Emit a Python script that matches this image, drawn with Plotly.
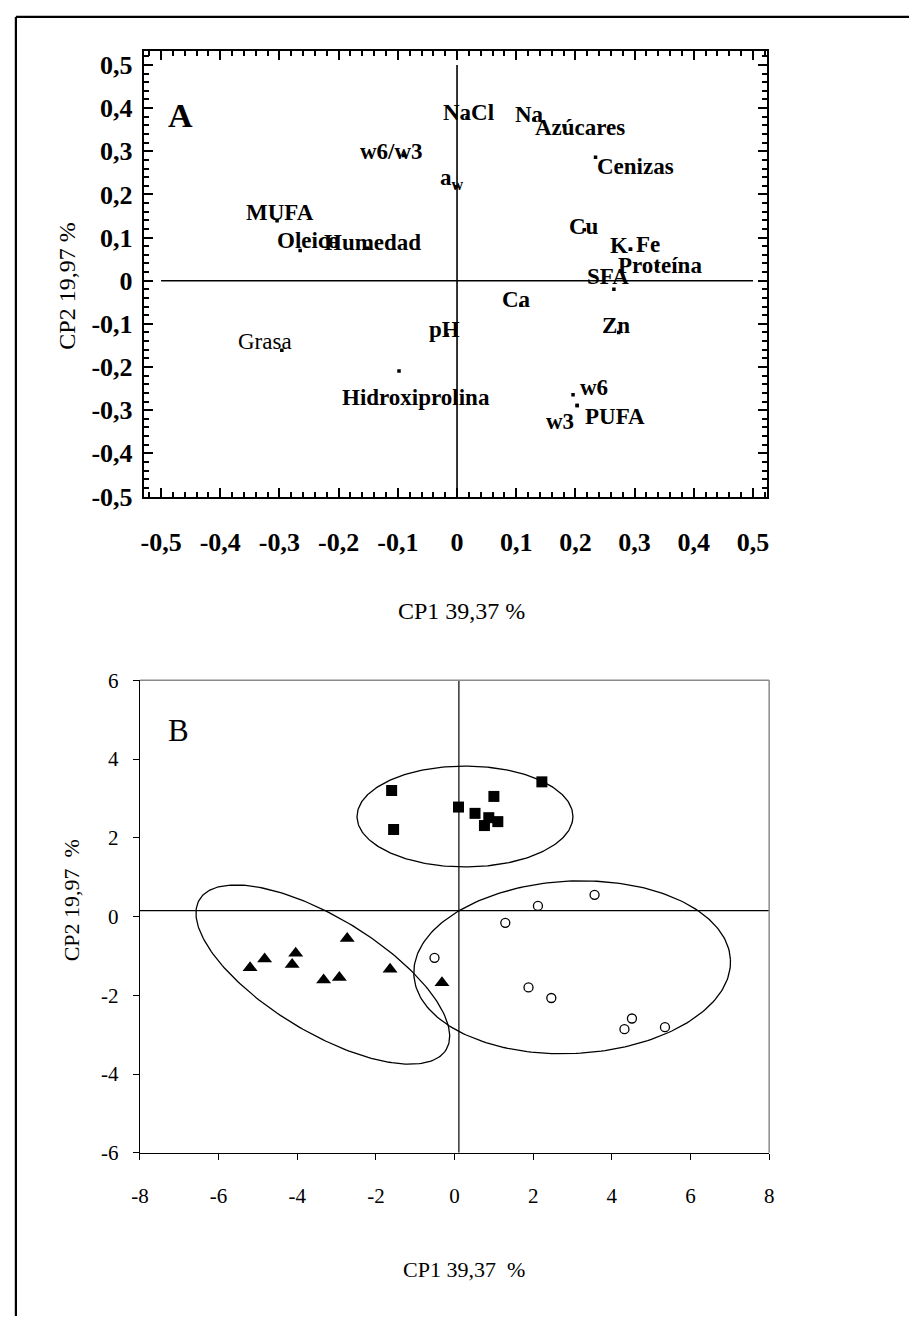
import math
import plotly.graph_objects as go

# ---------------- Panel A: loadings ----------------
var_names = ["NaCl", "Na", "Azúcares", "w6/w3", "Cenizas", "a<sub>w</sub>", "MUFA", "Oleico",
             "Humedad", "Cu", "K", "Fe", "Proteína", "SFA", "Ca", "Zn", "pH", "Grasa",
             "Hidroxiprolina", "w6", "w3", "PUFA"]
cp1_load = [0.017, 0.130, 0.181, -0.090, 0.234, -0.002, -0.304, -0.265,
            -0.151, 0.215, 0.293, 0.293, 0.338, 0.265, 0.108, 0.273, -0.017, -0.296,
            -0.098, 0.196, 0.203, 0.203]
cp2_load = [0.377, 0.373, 0.359, 0.290, 0.286, 0.218, 0.139, 0.070,
            0.075, 0.118, 0.073, 0.073, 0.036, -0.020, -0.057, -0.120, -0.125, -0.161,
            -0.209, -0.264, -0.289, -0.289]

a_ticks = [-0.5, -0.4, -0.3, -0.2, -0.1, 0, 0.1, 0.2, 0.3, 0.4, 0.5]
a_ticktext = ["-0,5", "-0,4", "-0,3", "-0,2", "-0,1", "0", "0,1", "0,2", "0,3", "0,4", "0,5"]
a_ref_h_x = [-0.5, 0.5]
a_ref_h_y = [0, 0]
a_ref_v_x = [0, 0]
a_ref_v_y = [-0.5, 0.5]

# ---------------- Panel B: scores ----------------
sq_x = [-1.60, -1.55, 0.10, 0.52, 1.00, 0.87, 0.76, 1.10, 2.22]
sq_y = [3.20, 2.21, 2.78, 2.62, 3.05, 2.51, 2.31, 2.41, 3.42]
tri_x = [-5.20, -4.83, -4.13, -4.04, -2.73, -3.33, -2.93, -1.64, -0.32]
tri_y = [-1.30, -1.08, -1.22, -0.93, -0.56, -1.61, -1.55, -1.34, -1.68]
circ_x = [1.29, 2.12, 3.56, -0.51, 1.88, 2.46, 4.51, 4.32, 5.35]
circ_y = [-0.16, 0.27, 0.55, -1.05, -1.80, -2.07, -2.59, -2.86, -2.81]

# ellipses: centre x, centre y, semi-axis a, semi-axis b, rotation (deg)
ell_cx = [0.265, -3.35, 2.99]
ell_cy = [2.54, -1.475, -1.29]
ell_a = [2.745, 3.67, 4.03]
ell_b = [1.28, 1.454, 2.19]
ell_rot = [0.0, -31.3, 2.75]

b_xticks = [-8, -6, -4, -2, 0, 2, 4, 6, 8]
b_yticks = [-6, -4, -2, 0, 2, 4, 6]
b_ref_h_x = [-8, 8]
b_ref_h_y = [0.15, 0.15]
b_ref_v_x = [0.11, 0.11]
b_ref_v_y = [-6, 6]

# ---------------- styling ----------------
W, H = 914, 1330
FONT = "Liberation Serif"

label_style = {
    # name: (xshift px, yshift px (up), bold)
    "NaCl": (1, 6, True), "Na": (-4, 5, True), "Azúcares": (16, -2, True),
    "w6/w3": (-12, 4, True), "Cenizas": (40, -9, True), "a<sub>w</sub>": (-4, 8, True),
    "MUFA": (3, 8, True), "Oleico": (8, 10, True), "Humedad": (5, 6, True),
    "Cu": (0, 3, True), "K": (-11, 4, True), "Fe": (18, 5, True),
    "Proteína": (3, 0, True), "SFA": (-6, 13, True), "Ca": (-4, 6, True),
    "Zn": (-3, 7, True), "pH": (-2, 5, True), "Grasa": (-17, 9, False),
    "Hidroxiprolina": (17, -27, True), "w6": (21, 7, True), "w3": (-17, -16, True),
    "PUFA": (38, -11, True),
}


def px_x(p):
    return p / W


def px_y(p):
    return 1 - p / H


fig = go.Figure()

# Panel A reference lines
fig.add_trace(go.Scatter(x=a_ref_h_x, y=a_ref_h_y, mode="lines", line=dict(color="black", width=1.6),
                         xaxis="x", yaxis="y", hoverinfo="skip", showlegend=False))
fig.add_trace(go.Scatter(x=a_ref_v_x, y=a_ref_v_y, mode="lines", line=dict(color="black", width=1.6),
                         xaxis="x", yaxis="y", hoverinfo="skip", showlegend=False))
# Panel A points
fig.add_trace(go.Scatter(x=cp1_load, y=cp2_load, mode="markers",
                         marker=dict(symbol="square", size=3.5, color="black", line=dict(width=0)),
                         xaxis="x", yaxis="y", hoverinfo="skip", showlegend=False))

annotations = []
for name, xv, yv in zip(var_names, cp1_load, cp2_load):
    dx, dy, bold = label_style[name]
    annotations.append(dict(x=xv, y=yv, xref="x", yref="y", text=name, showarrow=False,
                            xshift=dx, yshift=dy, xanchor="center", yanchor="middle",
                            font=dict(family=FONT, size=23, color="black",
                                      weight="bold" if bold else "normal")))

# Panel B reference lines
fig.add_trace(go.Scatter(x=b_ref_h_x, y=b_ref_h_y, mode="lines", line=dict(color="black", width=1.2),
                         xaxis="x2", yaxis="y2", hoverinfo="skip", showlegend=False))
fig.add_trace(go.Scatter(x=b_ref_v_x, y=b_ref_v_y, mode="lines", line=dict(color="black", width=1.2),
                         xaxis="x2", yaxis="y2", hoverinfo="skip", showlegend=False))

# Ellipses
for cx, cy, a, b, rot in zip(ell_cx, ell_cy, ell_a, ell_b, ell_rot):
    th = math.radians(rot)
    ts = [2 * math.pi * i / 240 for i in range(241)]
    ex = [cx + a * math.cos(t) * math.cos(th) - b * math.sin(t) * math.sin(th) for t in ts]
    ey = [cy + a * math.cos(t) * math.sin(th) + b * math.sin(t) * math.cos(th) for t in ts]
    fig.add_trace(go.Scatter(x=ex, y=ey, mode="lines", line=dict(color="black", width=1.3),
                             xaxis="x2", yaxis="y2", hoverinfo="skip", showlegend=False))

fig.add_trace(go.Scatter(x=sq_x, y=sq_y, mode="markers",
                         marker=dict(symbol="square", size=11, color="black", line=dict(width=0)),
                         xaxis="x2", yaxis="y2", showlegend=False))
fig.add_trace(go.Scatter(x=tri_x, y=tri_y, mode="markers",
                         marker=dict(symbol="triangle-up", size=13, color="black", line=dict(width=0)),
                         xaxis="x2", yaxis="y2", showlegend=False))
fig.add_trace(go.Scatter(x=circ_x, y=circ_y, mode="markers",
                         marker=dict(symbol="circle-open", size=9, color="black", line=dict(width=1.3)),
                         xaxis="x2", yaxis="y2", showlegend=False))

# Text: panel letters and axis titles
annotations += [
    dict(x=px_x(174), y=px_y(106), xref="paper", yref="paper", text="A", showarrow=False,
         xanchor="center", yanchor="middle", font=dict(family=FONT, size=34, color="black", weight="bold")),
    dict(x=px_x(172), y=px_y(733), xref="paper", yref="paper", text="B", showarrow=False,
         xanchor="center", yanchor="middle", font=dict(family=FONT, size=31, color="black")),
    dict(x=px_x(460), y=px_y(611), xref="paper", yref="paper", text="CP1 39,37 %", showarrow=False,
         xanchor="center", yanchor="middle", font=dict(family=FONT, size=24, color="black")),
    dict(x=px_x(58), y=px_y(280), xref="paper", yref="paper", text="CP2 19,97 %", showarrow=False,
         textangle=-90, xanchor="center", yanchor="middle", font=dict(family=FONT, size=24, color="black")),
    dict(x=px_x(462), y=px_y(1283), xref="paper", yref="paper", text="CP1 39,37  %", showarrow=False,
         xanchor="center", yanchor="middle", font=dict(family=FONT, size=22, color="black")),
    dict(x=px_x(63), y=px_y(906), xref="paper", yref="paper", text="CP2 19,97  %", showarrow=False,
         textangle=-90, xanchor="center", yanchor="middle", font=dict(family=FONT, size=22, color="black")),
]

shapes = [
    # outer frame (top and left edges)
    dict(type="line", xref="paper", yref="paper", x0=px_x(7), y0=px_y(5), x1=1.0, y1=px_y(5),
         line=dict(color="black", width=2.2)),
    dict(type="line", xref="paper", yref="paper", x0=px_x(7), y0=px_y(5), x1=px_x(7), y1=0.0,
         line=dict(color="black", width=2.2)),
    # panel B grey top/right frame
    dict(type="line", xref="x2 domain", yref="y2 domain", x0=0, y0=1, x1=1, y1=1,
         line=dict(color="#8a8a8a", width=1.5)),
    dict(type="line", xref="x2 domain", yref="y2 domain", x0=1, y0=0, x1=1, y1=1,
         line=dict(color="#8a8a8a", width=1.5)),
]

axA_common = dict(showgrid=False, zeroline=False, showline=True, linecolor="black", linewidth=2.2,
                  mirror="allticks", ticks="inside", ticklen=9, tickwidth=2, tickcolor="black",
                  tickmode="array", tickvals=a_ticks, ticktext=a_ticktext,
                  tickfont=dict(family=FONT, size=26, color="black", weight="bold"),
                  minor=dict(tickmode="linear", tick0=0, dtick=0.02, ticks="inside", ticklen=5,
                             tickwidth=1.6, tickcolor="black", showgrid=False))

fig.update_layout(
    width=W, height=H, margin=dict(l=0, r=0, t=0, b=0),
    paper_bgcolor="white", plot_bgcolor="white", showlegend=False,
    xaxis=dict(domain=[px_x(137), px_x(770)], range=[-0.529, 0.524], anchor="y",
               ticklabelstandoff=20, **axA_common),
    yaxis=dict(domain=[px_y(495), px_y(39.5)], range=[-0.502, 0.533], anchor="x",
               ticklabelstandoff=4, **axA_common),
    xaxis2=dict(domain=[px_x(133), px_x(772)], range=[-8, 8], anchor="y2",
                showgrid=False, zeroline=False, showline=True, linecolor="black", linewidth=1.3,
                ticks="outside", ticklen=6, tickwidth=1.2, tickcolor="black",
                tickmode="array", tickvals=b_xticks, ticktext=[str(v) for v in b_xticks],
                tickfont=dict(family=FONT, size=21, color="black"), ticklabelstandoff=18),
    yaxis2=dict(domain=[px_y(1163.5), px_y(681.6)], range=[-6, 6], anchor="x2",
                showgrid=False, zeroline=False, showline=True, linecolor="black", linewidth=1.3,
                ticks="outside", ticklen=6, tickwidth=1.2, tickcolor="black",
                tickmode="array", tickvals=b_yticks, ticktext=[str(v) for v in b_yticks],
                tickfont=dict(family=FONT, size=21, color="black"), ticklabelstandoff=10),
    annotations=annotations,
    shapes=shapes,
)

fig.write_html("out.html")
